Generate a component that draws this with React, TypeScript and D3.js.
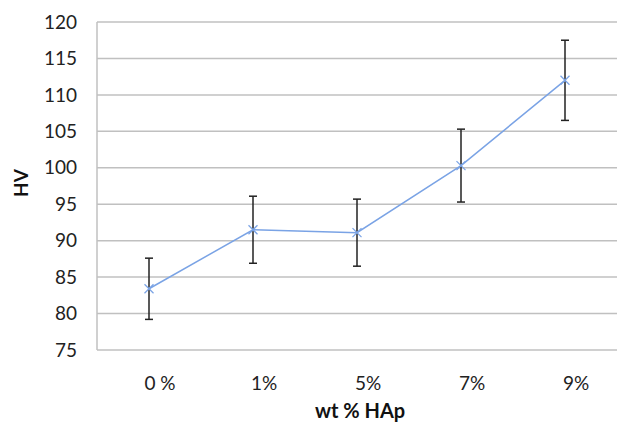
import React from "react";
import * as d3 from "d3";

const categories = ["0 %", "1%", "5%", "7%", "9%"];
const means = [83.4, 91.5, 91.1, 100.3, 112.0];
const errors = [4.2, 4.6, 4.6, 5.0, 5.5];
const yTicks = [75, 80, 85, 90, 95, 100, 105, 110, 115, 120];

const W = 619;
const H = 425;
const M = { left: 97, right: 617, top: 22, bottom: 350 };
const FONT = "Lato, 'Open Sans', sans-serif";

export default function App() {
  const x = d3.scalePoint<string>().domain(categories).range([M.left, M.right]).padding(0.5);
  const y = d3.scaleLinear().domain([75, 120]).range([M.bottom, M.top]);
  const line = d3
    .line<number>()
    .x((_, i) => x(categories[i]) as number)
    .y((d) => y(d));
  const lineColor = "#7aa3e5";
  return (
    <svg width={W} height={H} style={{ position: "absolute", left: 0, top: 0 }}>
      <rect width={W} height={H} fill="#fff" />
      {yTicks.map((t) => (
        <g key={t}>
          <line x1={M.left} x2={M.right} y1={y(t)} y2={y(t)} stroke="#c0c0c0" strokeWidth={1.5} />
          <text x={77} y={y(t)} dy="0.35em" textAnchor="end" fontFamily={FONT} fontSize={19} fill="#222">
            {t}
          </text>
        </g>
      ))}
      <line x1={M.left} x2={M.left} y1={M.top} y2={M.bottom} stroke="#c0c0c0" strokeWidth={1.5} />
      {categories.map((c) => (
        <text key={c} x={(x(c) as number) + 11} y={390} textAnchor="middle" fontFamily={FONT} fontSize={19} fill="#222">
          {c}
        </text>
      ))}
      <text x={360} y={418} textAnchor="middle" fontFamily={FONT} fontSize={20} fontWeight="bold" fill="#111">
        wt % HAp
      </text>
      <text
        transform={`translate(28, 183) rotate(-90)`}
        textAnchor="middle"
        fontFamily={FONT}
        fontSize={19}
        fontWeight="bold"
        fill="#111"
      >
        HV
      </text>
      {means.map((m, i) => {
        const cx = x(categories[i]) as number;
        return (
          <g key={i} stroke="#222" strokeWidth={1.5}>
            <line x1={cx} x2={cx} y1={y(m + errors[i])} y2={y(m - errors[i])} />
            <line x1={cx - 4} x2={cx + 4} y1={y(m + errors[i])} y2={y(m + errors[i])} />
            <line x1={cx - 4} x2={cx + 4} y1={y(m - errors[i])} y2={y(m - errors[i])} />
          </g>
        );
      })}
      <path d={line(means) || ""} fill="none" stroke={lineColor} strokeWidth={1.5} />
      {means.map((m, i) => {
        const cx = x(categories[i]) as number;
        const cy = y(m);
        const s = 4.5;
        return (
          <g key={i} stroke={lineColor} strokeWidth={1.3}>
            <line x1={cx - s} x2={cx + s} y1={cy - s} y2={cy + s} />
            <line x1={cx - s} x2={cx + s} y1={cy + s} y2={cy - s} />
          </g>
        );
      })}
    </svg>
  );
}
